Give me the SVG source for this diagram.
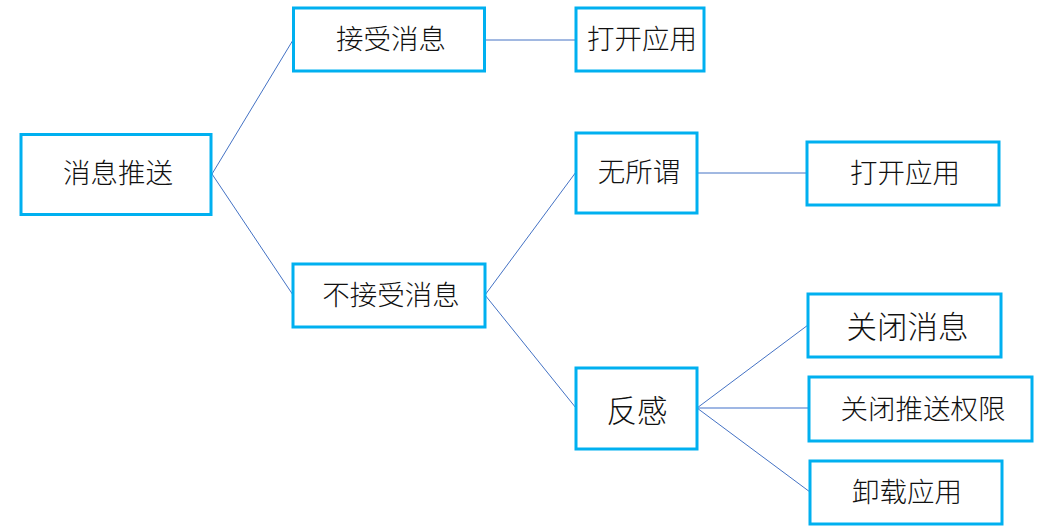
<svg xmlns="http://www.w3.org/2000/svg" width="1059" height="528" viewBox="0 0 1059 528">
<style>
.box{fill:#fff;stroke:#00B0F0;stroke-width:3}
.lbl{font-family:"Noto Sans CJK SC","Noto Sans",sans-serif;font-size:27.5px;font-weight:300;fill:#111;text-anchor:middle;dominant-baseline:central}
.big{font-size:30.5px}
.conn line{stroke:#4472C4;stroke-width:1}
</style>
<rect width="1059" height="528" fill="#fff"/>
<g class="conn" id="connectors">
<line x1="212" y1="174" x2="293" y2="40"/>
<line x1="212" y1="174" x2="293" y2="295"/>
<line x1="485" y1="40" x2="576" y2="40"/>
<line x1="485" y1="295" x2="576" y2="172"/>
<line x1="485" y1="295" x2="576" y2="408"/>
<line x1="697" y1="173" x2="807" y2="173"/>
<line x1="697" y1="408" x2="808" y2="325"/>
<line x1="697" y1="408" x2="809" y2="408" style="stroke-width:1.5;stroke:#7F9FDB"/>
<line x1="697" y1="408" x2="810" y2="492"/>
</g>
<g id="n1"><rect class="box" x="21" y="134.5" width="190" height="80"/><text class="lbl" x="118" y="171">消息推送</text></g>
<g id="n2"><rect class="box" x="293.5" y="8" width="191" height="63"/><text class="lbl" x="391" y="37">接受消息</text></g>
<g id="n3"><rect class="box" x="576" y="8" width="128" height="63"/><text class="lbl" x="642" y="37">打开应用</text></g>
<g id="n4"><rect class="box" x="293" y="264" width="192" height="63"/><text class="lbl" x="391" y="293">不接受消息</text></g>
<g id="n5"><rect class="box" x="576" y="133" width="121" height="80"/><text class="lbl" x="639" y="170">无所谓</text></g>
<g id="n6"><rect class="box" x="807" y="142" width="192" height="63"/><text class="lbl" x="905" y="171">打开应用</text></g>
<g id="n7"><rect class="box" x="576" y="368" width="121" height="81"/><text class="lbl big" x="637" y="409">反感</text></g>
<g id="n8"><rect class="box" x="808" y="294" width="193" height="63"/><text class="lbl big" x="907.5" y="325">关闭消息</text></g>
<g id="n9"><rect class="box" x="809" y="377" width="223" height="64"/><text class="lbl" x="923" y="407">关闭推送权限</text></g>
<g id="n10"><rect class="box" x="810" y="461" width="192" height="63"/><text class="lbl" x="907" y="490">卸载应用</text></g>
</svg>
